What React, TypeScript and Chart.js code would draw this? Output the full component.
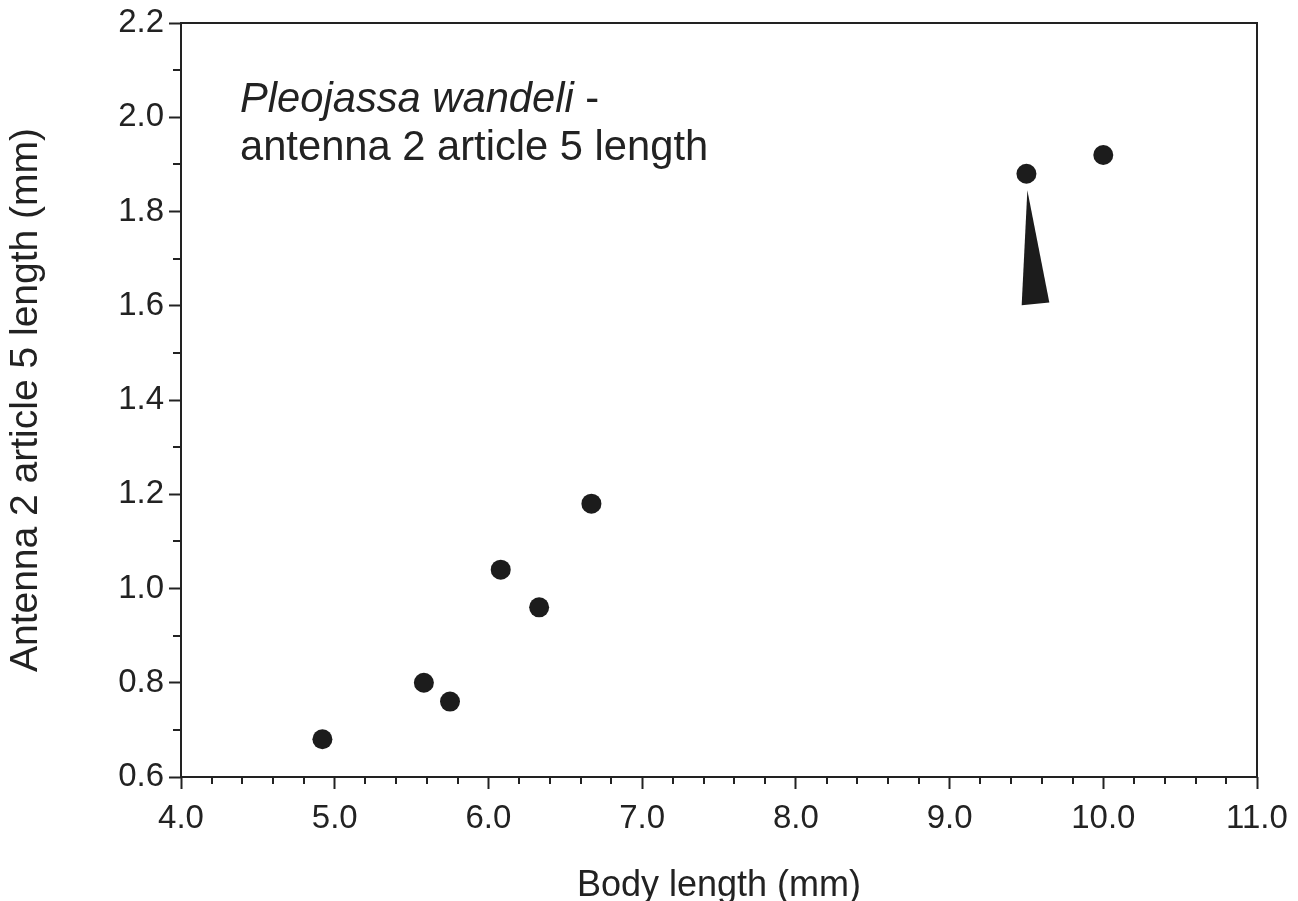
import React, { useEffect, useRef } from 'react';
import { Chart, registerables } from 'chart.js';

Chart.register(...registerables);

// ---- data ----
const bodyLength = [4.92, 5.58, 5.75, 6.08, 6.33, 6.67, 9.5, 10.0];
const article5Length = [0.68, 0.8, 0.76, 1.04, 0.96, 1.18, 1.88, 1.92];
const pointerX = [9.506, 9.469, 9.649];
const pointerY = [1.845, 1.601, 1.607];
const xRange = [4, 11];
const yRange = [0.6, 2.2];
const xStep = 0.2;
const yStep = 0.1;
const xTitle = 'Body length (mm)';
const yTitle = 'Antenna 2 article 5 length (mm)';
const noteItalic = 'Pleojassa wandeli';
const noteRest = ' -';
const noteLine2 = 'antenna 2 article 5 length';

const FONT = '"Liberation Sans", Arial, Helvetica, sans-serif';
const INK = '#222222';
const DOT = '#1c1c1c';

const isMajorX = (v: number) => Math.abs(v - Math.round(v)) < 1e-6;
const isMajorY = (v: number) => Math.round(v * 10) % 2 === 0;

const decorPlugin = {
  id: 'decor',
  beforeDatasetsDraw(chart: any) {
    const { ctx, scales } = chart;
    const xs = scales.x;
    const ys = scales.y;
    ctx.save();
    ctx.beginPath();
    pointerX.forEach((vx, i) => {
      const px = xs.getPixelForValue(vx);
      const py = ys.getPixelForValue(pointerY[i]);
      if (i === 0) ctx.moveTo(px, py);
      else ctx.lineTo(px, py);
    });
    ctx.closePath();
    ctx.fillStyle = DOT;
    ctx.fill();
    ctx.restore();
  },
  afterDraw(chart: any) {
    const { ctx, chartArea, scales } = chart;
    const { left, right, top, bottom } = chartArea;
    ctx.save();
    ctx.strokeStyle = INK;
    ctx.lineWidth = 2;
    ctx.strokeRect(Math.round(left), Math.round(top), Math.round(right) - Math.round(left), Math.round(bottom) - Math.round(top));
    ctx.beginPath();
    scales.x.ticks.forEach((t: any) => {
      if (isMajorX(t.value)) return;
      const px = Math.round(scales.x.getPixelForValue(t.value));
      ctx.moveTo(px, Math.round(bottom));
      ctx.lineTo(px, Math.round(bottom) + 7);
    });
    scales.y.ticks.forEach((t: any) => {
      if (isMajorY(t.value)) return;
      const py = Math.round(scales.y.getPixelForValue(t.value));
      ctx.moveTo(Math.round(left), py);
      ctx.lineTo(Math.round(left) - 8, py);
    });
    ctx.stroke();

    ctx.fillStyle = INK;
    ctx.textBaseline = 'alphabetic';
    ctx.textAlign = 'left';
    const tx = left + 59;
    ctx.font = `italic 41.7px ${FONT}`;
    ctx.fillText(noteItalic, tx, top + 89);
    const w = ctx.measureText(noteItalic).width;
    ctx.font = `41.7px ${FONT}`;
    ctx.fillText(noteRest, tx + w, top + 89);
    ctx.fillText(noteLine2, tx, top + 137);
    ctx.restore();
  },
};

export default function App() {
  const ref = useRef<HTMLCanvasElement | null>(null);

  useEffect(() => {
    if (!ref.current) return;
    const chart = new Chart(ref.current, {
      type: 'scatter',
      data: {
        datasets: [
          {
            data: bodyLength.map((x, i) => ({ x, y: article5Length[i] })),
            backgroundColor: DOT,
            borderWidth: 0,
            pointRadius: 10,
            pointHoverRadius: 10,
          },
        ],
      },
      options: {
        responsive: false,
        animation: false,
        devicePixelRatio: 1,
        layout: { padding: { top: 23, right: 41, left: 0, bottom: 0 } },
        plugins: { legend: { display: false }, tooltip: { enabled: false } },
        scales: {
          x: {
            type: 'linear',
            min: xRange[0],
            max: xRange[1],
            afterFit: (s: any) => {
              s.height = 124;
              s.paddingLeft = 0;
              s.paddingRight = 0;
            },
            border: { display: false },
            grid: {
              drawOnChartArea: false,
              drawTicks: true,
              tickLength: 12,
              tickWidth: 2,
              tickColor: (c: any) => (c.tick && isMajorX(c.tick.value) ? INK : 'rgba(0,0,0,0)'),
            },
            ticks: {
              stepSize: xStep,
              autoSkip: false,
              maxRotation: 0,
              padding: 10,
              color: INK,
              font: { family: FONT, size: 33 },
              callback: (v: any) => (isMajorX(Number(v)) ? Number(v).toFixed(1) : ''),
            },
            title: {
              display: true,
              text: xTitle,
              color: INK,
              font: { family: FONT, size: 36, lineHeight: 0.85 },
              padding: { top: 0, bottom: 0 },
            },
          },
          y: {
            type: 'linear',
            min: yRange[0],
            max: yRange[1],
            afterFit: (s: any) => {
              s.width = 181;
              s.paddingTop = 0;
              s.paddingBottom = 0;
            },
            border: { display: false },
            grid: {
              drawOnChartArea: false,
              drawTicks: true,
              tickLength: 12,
              tickWidth: 2,
              tickColor: (c: any) => (c.tick && isMajorY(c.tick.value) ? INK : 'rgba(0,0,0,0)'),
            },
            ticks: {
              stepSize: yStep,
              autoSkip: false,
              padding: 5,
              color: INK,
              font: { family: FONT, size: 33 },
              callback: (v: any) => (isMajorY(Number(v)) ? Number(v).toFixed(1) : ''),
            },
            title: {
              display: true,
              text: yTitle,
              color: INK,
              font: { family: FONT, size: 39, lineHeight: 1 },
              padding: { top: 7, bottom: 0 },
            },
          },
        },
      },
      plugins: [decorPlugin],
    } as any);
    return () => chart.destroy();
  }, []);

  return (
    <div style={{ position: 'absolute', left: 0, top: 0, width: 1298, height: 901, background: '#ffffff' }}>
      <canvas ref={ref} width={1298} height={901} style={{ display: 'block' }} />
    </div>
  );
}
